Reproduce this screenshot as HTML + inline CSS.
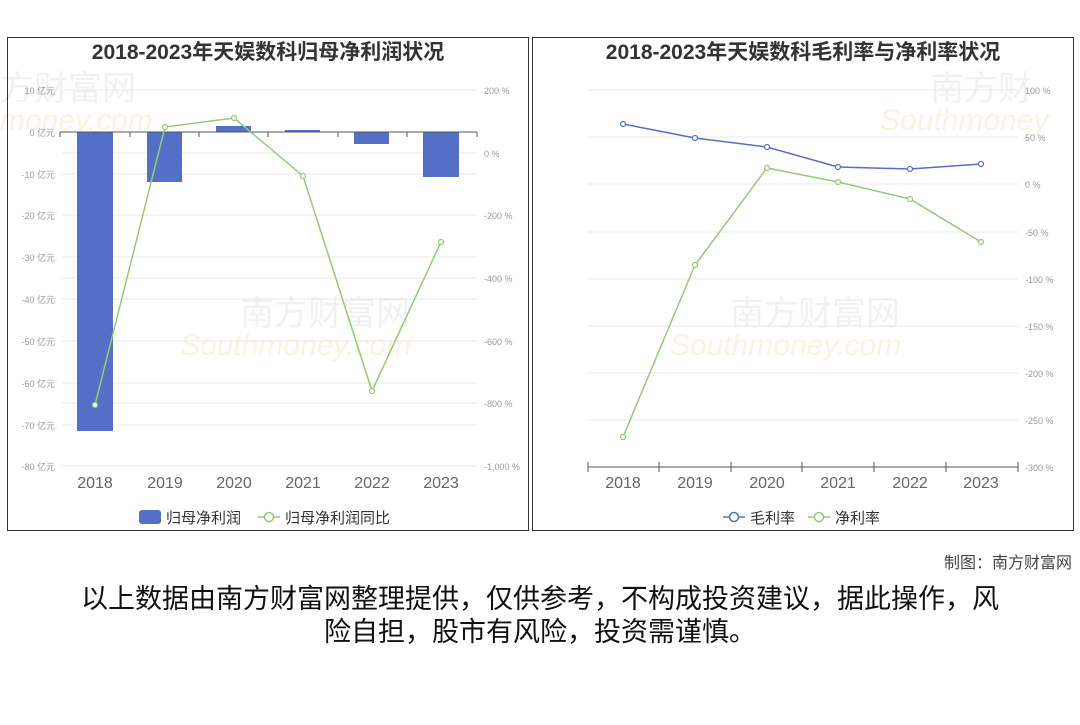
<!DOCTYPE html>
<html><head><meta charset="utf-8"><style>
body{margin:0;background:#fff;}
svg text{font-family:"Liberation Sans","Noto Sans CJK SC",sans-serif;}
</style></head><body>
<svg width="1080" height="720" viewBox="0 0 1080 720" xmlns="http://www.w3.org/2000/svg">
<rect width="1080" height="720" fill="#fff"/>
<!-- watermarks -->
<g fill="#ececec" font-size="34" opacity="0.7">
<text x="0" y="100">方财富网</text><text x="930" y="100">南方财</text>
<text x="240" y="325">南方财富网</text><text x="730" y="325">南方财富网</text>
</g>
<g fill="#f8ead0" font-size="30" font-style="italic" opacity="0.6">
<text x="0" y="130">money.com</text><text x="880" y="130">Southmoney</text>
<text x="180" y="355">Southmoney.com</text><text x="670" y="355">Southmoney.com</text>
</g>
<!-- panels -->
<rect x="7.5" y="37.5" width="521" height="493" fill="none" stroke="#333" stroke-width="1"/>
<rect x="532.5" y="37.5" width="541" height="493" fill="none" stroke="#333" stroke-width="1"/>
<text x="268" y="59" font-size="21" font-weight="bold" fill="#333" text-anchor="middle">2018-2023年天娱数科归母净利润状况</text>
<text x="803" y="59" font-size="21" font-weight="bold" fill="#333" text-anchor="middle">2018-2023年天娱数科毛利率与净利率状况</text>
<!-- left grid -->
<g stroke="#e8e8e8" stroke-width="1">
<line x1="62" x2="477" y1="90" y2="90"/><line x1="62" x2="477" y1="153" y2="153"/>
<line x1="62" x2="477" y1="174" y2="174"/><line x1="62" x2="477" y1="215" y2="215"/>
<line x1="62" x2="477" y1="257" y2="257"/><line x1="62" x2="477" y1="278" y2="278"/>
<line x1="62" x2="477" y1="299" y2="299"/><line x1="62" x2="477" y1="341" y2="341"/>
<line x1="62" x2="477" y1="383" y2="383"/><line x1="62" x2="477" y1="403" y2="403"/>
<line x1="62" x2="477" y1="425" y2="425"/><line x1="62" x2="477" y1="466" y2="466"/>
</g>
<g font-size="9" fill="#999" text-anchor="end">
<text x="55" y="94">10 亿元</text><text x="55" y="136">0 亿元</text><text x="55" y="178">-10 亿元</text>
<text x="55" y="219">-20 亿元</text><text x="55" y="261">-30 亿元</text><text x="55" y="303">-40 亿元</text>
<text x="55" y="345">-50 亿元</text><text x="55" y="387">-60 亿元</text><text x="55" y="429">-70 亿元</text>
<text x="55" y="470">-80 亿元</text>
</g>
<g font-size="9" fill="#999">
<text x="484" y="94">200 %</text><text x="484" y="157">0 %</text><text x="484" y="219">-200 %</text>
<text x="484" y="282">-400 %</text><text x="484" y="345">-600 %</text><text x="484" y="407">-800 %</text>
<text x="484" y="470">-1,000 %</text>
</g>
<g fill="#5470c6">
<rect x="77" y="132" width="36" height="299"/><rect x="147" y="132" width="35" height="50"/>
<rect x="216" y="126" width="35" height="6"/><rect x="285" y="130" width="35" height="2"/>
<rect x="354" y="132" width="35" height="12"/><rect x="423" y="132" width="36" height="45"/>
</g>
<line x1="60" x2="477" y1="132" y2="132" stroke="#555"/>
<g stroke="#555"><line x1="60" x2="60" y1="132" y2="137"/><line x1="130" x2="130" y1="132" y2="137"/><line x1="199" x2="199" y1="132" y2="137"/><line x1="268" x2="268" y1="132" y2="137"/><line x1="338" x2="338" y1="132" y2="137"/><line x1="407" x2="407" y1="132" y2="137"/><line x1="477" x2="477" y1="132" y2="137"/></g>
<polyline points="95,405 165,127 234,118 303,176 372,391 441,242" fill="none" stroke="#91cc75" stroke-width="1.5"/>
<g fill="#fff" stroke="#91cc75" stroke-width="1.2">
<circle cx="95" cy="405" r="2.5"/><circle cx="165" cy="127" r="2.5"/><circle cx="234" cy="118" r="2.5"/><circle cx="303" cy="176" r="2.5"/><circle cx="372" cy="391" r="2.5"/><circle cx="441" cy="242" r="2.5"/>
</g>
<g font-size="16" fill="#666" text-anchor="middle">
<text x="95" y="488">2018</text><text x="165" y="488">2019</text><text x="234" y="488">2020</text><text x="303" y="488">2021</text><text x="372" y="488">2022</text><text x="441" y="488">2023</text>
</g>
<rect x="139" y="510" width="22" height="14" rx="3" fill="#5470c6"/>
<text x="166" y="523" font-size="15" fill="#333">归母净利润</text>
<line x1="258" x2="280" y1="517" y2="517" stroke="#91cc75" stroke-width="1.5"/><circle cx="269" cy="517" r="4.5" fill="#fff" stroke="#91cc75" stroke-width="1.5"/>
<text x="285" y="523" font-size="15" fill="#333">归母净利润同比</text>
<!-- right chart -->
<g stroke="#e8e8e8" stroke-width="1">
<line x1="588" x2="1018" y1="90" y2="90"/><line x1="588" x2="1018" y1="137" y2="137"/>
<line x1="588" x2="1018" y1="184" y2="184"/><line x1="588" x2="1018" y1="232" y2="232"/>
<line x1="588" x2="1018" y1="279" y2="279"/><line x1="588" x2="1018" y1="326" y2="326"/>
<line x1="588" x2="1018" y1="373" y2="373"/><line x1="588" x2="1018" y1="420" y2="420"/>
</g>
<g font-size="9" fill="#999">
<text x="1025" y="94">100 %</text><text x="1025" y="141">50 %</text><text x="1025" y="188">0 %</text>
<text x="1025" y="236">-50 %</text><text x="1025" y="283">-100 %</text><text x="1025" y="330">-150 %</text>
<text x="1025" y="377">-200 %</text><text x="1025" y="424">-250 %</text><text x="1025" y="471">-300 %</text>
</g>
<line x1="588" x2="1018" y1="467" y2="467" stroke="#555"/>
<g stroke="#555"><line x1="588" x2="588" y1="462" y2="472"/><line x1="659" x2="659" y1="462" y2="472"/><line x1="731" x2="731" y1="462" y2="472"/><line x1="802" x2="802" y1="462" y2="472"/><line x1="874" x2="874" y1="462" y2="472"/><line x1="946" x2="946" y1="462" y2="472"/><line x1="1018" x2="1018" y1="462" y2="472"/></g>
<polyline points="623,124 695,138 767,147 838,167 910,169 981,164" fill="none" stroke="#5470c6" stroke-width="1.5"/>
<g fill="#fff" stroke="#5470c6" stroke-width="1.2">
<circle cx="623" cy="124" r="2.5"/><circle cx="695" cy="138" r="2.5"/><circle cx="767" cy="147" r="2.5"/><circle cx="838" cy="167" r="2.5"/><circle cx="910" cy="169" r="2.5"/><circle cx="981" cy="164" r="2.5"/>
</g>
<polyline points="623,437 695,265 767,168 838,182 910,199 981,242" fill="none" stroke="#91cc75" stroke-width="1.5"/>
<g fill="#fff" stroke="#91cc75" stroke-width="1.2">
<circle cx="623" cy="437" r="2.5"/><circle cx="695" cy="265" r="2.5"/><circle cx="767" cy="168" r="2.5"/><circle cx="838" cy="182" r="2.5"/><circle cx="910" cy="199" r="2.5"/><circle cx="981" cy="242" r="2.5"/>
</g>
<g font-size="16" fill="#666" text-anchor="middle">
<text x="623" y="488">2018</text><text x="695" y="488">2019</text><text x="767" y="488">2020</text><text x="838" y="488">2021</text><text x="910" y="488">2022</text><text x="981" y="488">2023</text>
</g>
<line x1="723" x2="745" y1="517" y2="517" stroke="#5470c6" stroke-width="1.5"/><circle cx="734" cy="517" r="4.5" fill="#fff" stroke="#5470c6" stroke-width="1.5"/>
<text x="750" y="523" font-size="15" fill="#333">毛利率</text>
<line x1="808" x2="830" y1="517" y2="517" stroke="#91cc75" stroke-width="1.5"/><circle cx="819" cy="517" r="4.5" fill="#fff" stroke="#91cc75" stroke-width="1.5"/>
<text x="835" y="523" font-size="15" fill="#333">净利率</text>
<!-- footer -->
<text x="1072" y="568" font-size="16" fill="#444" text-anchor="end">制图：南方财富网</text>
<text x="540" y="608" font-size="27" fill="#111" text-anchor="middle" textLength="918" lengthAdjust="spacingAndGlyphs">以上数据由南方财富网整理提供，仅供参考，不构成投资建议，据此操作，风</text>
<text x="540" y="641" font-size="27" fill="#111" text-anchor="middle">险自担，股市有风险，投资需谨慎。</text>
</svg>
</body></html>
